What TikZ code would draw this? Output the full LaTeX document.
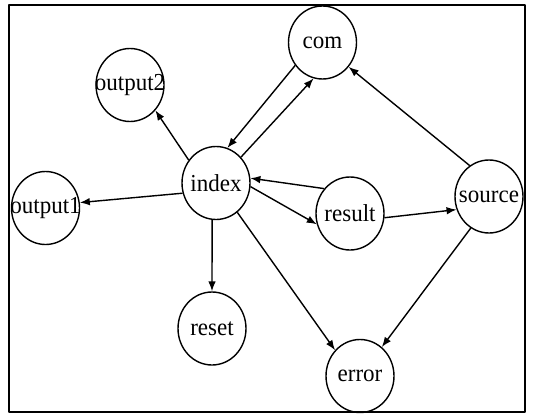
\documentclass[tikz,border=0pt]{standalone}
\usepackage{fontspec}
\setmainfont{Liberation Serif}
\usetikzlibrary{shapes.geometric,arrows.meta}
\begin{document}
\begin{tikzpicture}[x=.5pt,y=-.5pt,>={Latex[length=5pt,width=3.8pt]}, line join=round, line width=.7pt,
	state/.style={ellipse,draw,minimum width=34pt,minimum height=36.5pt,inner sep=0pt,font=\fontsize{11.5}{13}\selectfont}]
	\def\nm#1{\makebox[0pt]{\scalebox{1}[1.06]{#1}}} % Text may overflow the circle
	\useasboundingbox (0,0) rectangle (535,413);
	\draw (9,5) rectangle (525,412);
	\node[state] (com) at (322.5,42.5) {\nm{com}};
	\node[state] (outtwo) at (130,85) {\nm{output2}};
	\node[state] (index) at (216,183) {\nm{index}};
	\node[state] (outone) at (45.5,208) {\nm{output1}};
	\node[state] (result) at (350,213.5) {\nm{result}};
	\node[state] (source) at (489,196.5) {\nm{source}};
	\node[state] (reset) at (212,328.5) {\nm{reset}};
	\node[state] (error) at (360,376) {\nm{error}};
	\draw[->] (com.220)--(index.72);
	\draw[->] (index.46)--(com.256);
	\draw[->] (index.140)--(outtwo.-45);
	\draw[->] (index.197)--(outone.9);
	\draw[->] (result.136)--(index.8);
	\draw[->] (index.-6)--(result.198);
	\draw[->] (result.-7)--(source.202);
	\draw[->] (source.122)--(com.-43);
	\draw[->] (source.240)--(error.53);
	\draw[->] (index.-54)--(error.134);
	\draw[->] (index.264)--(reset.north);
\end{tikzpicture}
\end{document}
